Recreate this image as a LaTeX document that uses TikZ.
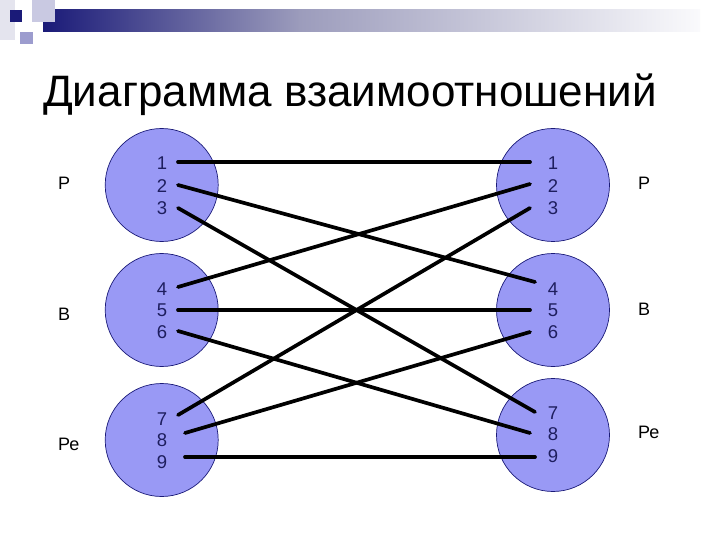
\documentclass[tikz,border=0pt]{standalone}
\usepackage{fontspec}
\setmainfont{Liberation Sans}
\usepackage{tikz}
\usetikzlibrary{positioning}
\definecolor{navyD}{HTML}{1A1A78}
\definecolor{barMid}{HTML}{9C9CBC}
\definecolor{barEnd}{HTML}{FAFAFC}
\definecolor{sqLight}{HTML}{C9C9E2}
\definecolor{sqMid}{HTML}{9C9CCE}
\definecolor{sqFaint}{HTML}{E4E4EE}
\definecolor{bubbleF}{HTML}{9999F5}
\definecolor{digitC}{HTML}{1E1E5E}

\begin{document}
\begin{tikzpicture}[
  x=1pt,y=-1pt,
  every node/.style={align=center,inner sep=0pt},
  bubble/.style={circle,draw=navyD,line width=0.7pt,fill=bubbleF,minimum size=113pt},
  digit/.style={font=\fontsize{18.5}{22}\selectfont,text=digitC},
  side/.style={font=\fontsize{18}{22}\selectfont,anchor=base west},
  link/.style={line width=3.7pt,black,line cap=round}
]
\useasboundingbox[fill=white] (0,0) rectangle (720,540);

% Header decoration
\fill[sqFaint] (0,0) rectangle (15,40);
\shade[left color=navyD,right color=barMid] (43,10) rectangle (300,32);
\shade[left color=barMid,right color=barEnd] (299.5,10) rectangle (700,32);
\fill[sqLight] (32,0) rectangle (55,22);
\fill[navyD] (10,10) rectangle (22,22);
\fill[sqMid] (20,32) rectangle (33,44);

% Title
\node[anchor=base west,font=\fontsize{44}{52}\selectfont] (title)
  at (43,107) {Диаграмма взаимоотношений};

% Left circles
\node[bubble] (cl1) at (161.7,185) {};
\node[bubble] (cl2) at (161.7,310) {};
\node[bubble] (cl3) at (161.7,440) {};
\node[digit] (l1) at (162,163.5) {1};
\node[digit] (l2) at (162,186) {2};
\node[digit] (l3) at (162,208) {3};
\node[digit] (l4) at (162,289) {4};
\node[digit] (l5) at (162,310.5) {5};
\node[digit] (l6) at (162,332) {6};
\node[digit] (l7) at (162,419) {7};
\node[digit] (l8) at (162,440.5) {8};
\node[digit] (l9) at (162,462) {9};

% Right circles
\node[bubble] (cr1) at (553,185) {};
\node[bubble] (cr2) at (553,310) {};
\node[bubble] (cr3) at (553,435) {};
\node[digit] (r1) at (553,163.5) {1};
\node[digit] (r2) at (553,186) {2};
\node[digit] (r3) at (553,208) {3};
\node[digit] (r4) at (553,289) {4};
\node[digit] (r5) at (553,310) {5};
\node[digit] (r6) at (553,332) {6};
\node[digit] (r7) at (553,413) {7};
\node[digit] (r8) at (553,434.5) {8};
\node[digit] (r9) at (553,456.5) {9};

% Side labels
\node[side] (sl1) at (58,190) {Р};
\node[side] (sl2) at (58,320) {В};
\node[side] (sl3) at (58,450) {Ре};
\node[side] (sr1) at (638,190) {Р};
\node[side] (sr2) at (638,315) {В};
\node[side] (sr3) at (638,438) {Ре};

% Line ends
\coordinate (a1) at (178,162);
\coordinate (a2) at (178,185);
\coordinate (a3) at (178,208);
\coordinate (a4) at (178,287);
\coordinate (a5) at (178,310);
\coordinate (a6) at (178,331);
\coordinate (a7) at (178,415);
\coordinate (a8) at (185,433);
\coordinate (a9) at (185,457);
\coordinate (b1) at (530,162);
\coordinate (b2) at (530,184);
\coordinate (b3) at (530,208);
\coordinate (b4) at (535,282);
\coordinate (b5) at (530,310);
\coordinate (b6) at (530,332);
\coordinate (b7) at (535,412);
\coordinate (b8) at (530,433);
\coordinate (b9) at (535,457);

% Links
\draw[link] (a1) -- (b1);
\draw[link] (a2) -- (b4);
\draw[link] (a3) -- (b7);
\draw[link] (a4) -- (b2);
\draw[link] (a5) -- (b5);
\draw[link] (a6) -- (b8);
\draw[link] (a7) -- (b3);
\draw[link] (a8) -- (b6);
\draw[link] (a9) -- (b9);
\end{tikzpicture}
\end{document}
